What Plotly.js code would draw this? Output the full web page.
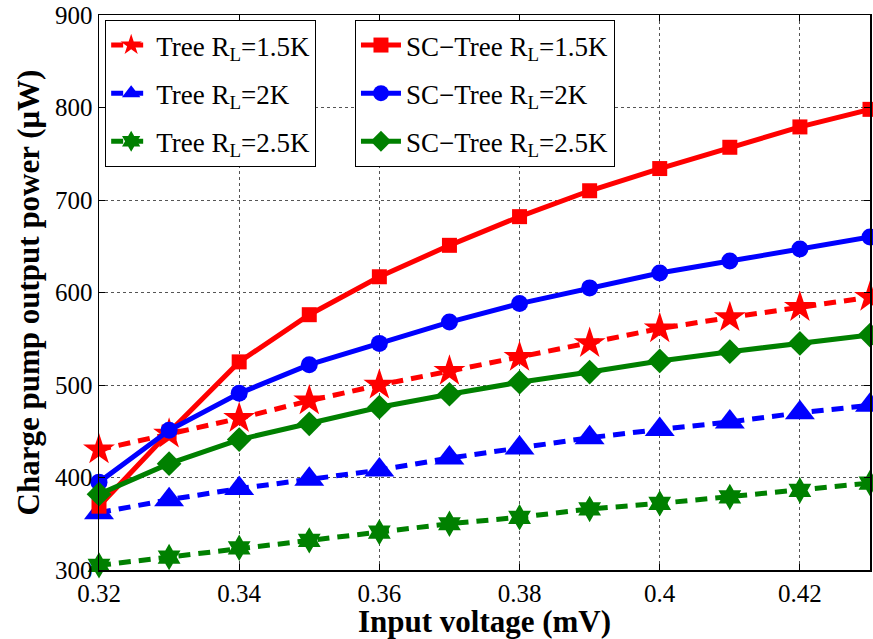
<!DOCTYPE html>
<html>
<head>
<meta charset="utf-8">
<script src="https://cdn.plot.ly/plotly-3.0.1.min.js"></script>
<style>
  html, body { margin: 0; padding: 0; background: #fff; }
  #chart { width: 873px; height: 639px; }
</style>
</head>
<body>
<div id="chart"></div>
<script>
// Input voltage sweep (mV)
const inputVoltage = [0.32, 0.33, 0.34, 0.35, 0.36, 0.37, 0.38, 0.39, 0.40, 0.41, 0.42, 0.43];

// Output power (µW), plain tree charge pump
const tree15 = [430, 447, 464, 483, 500, 515, 530, 545, 561, 573, 584, 595];
const tree2 = [362, 376, 388, 398, 408, 421, 432, 443, 452, 460, 470, 478];
const tree25 = [305, 314, 324, 332, 341, 350, 357, 366, 372, 379, 386, 394];

// Output power (µW), SC-tree charge pump
const scTree15 = [369, 449, 525, 576, 617, 651, 682, 710, 734, 757, 779, 798];
const scTree2 = [395, 451, 491, 522, 545, 568, 588, 605, 621, 634, 647, 660];
const scTree25 = [382, 415, 441, 458, 476, 490, 503, 514, 526, 536, 545, 554];

const xTicks = [0.32, 0.34, 0.36, 0.38, 0.4, 0.42];
const xTickText = ['0.32', '0.34', '0.36', '0.38', '0.4', '0.42'];
const yTicks = [300, 400, 500, 600, 700, 800, 900];

const RED = '#ff0000', BLUE = '#0000ff', GREEN = '#008000';
const DASH = '12px,8px';

function series(name, y, color, symbol, size, dashed, legend) {
  return {
    x: inputVoltage, y: y, name: name, type: 'scatter', mode: 'lines+markers',
    line: { color: color, width: 5, dash: dashed ? DASH : 'solid' },
    marker: { color: color, symbol: symbol, size: size, line: { width: 0 } },
    cliponaxis: false,
    legend: legend,
    legendgroup: name
  };
}

const traces = [
  series('Tree R<sub>L</sub>=1.5K', tree15, RED, 'star', 24, true, 'legend'),
  series('Tree R<sub>L</sub>=2K', tree2, BLUE, 'triangle-up', 26, true, 'legend'),
  series('Tree R<sub>L</sub>=2.5K', tree25, GREEN, 'hexagram', 20, true, 'legend'),
  series('SC\u2212Tree R<sub>L</sub>=1.5K', scTree15, RED, 'square', 15, false, 'legend2'),
  series('SC\u2212Tree R<sub>L</sub>=2K', scTree2, BLUE, 'circle', 17, false, 'legend2'),
  series('SC\u2212Tree R<sub>L</sub>=2.5K', scTree25, GREEN, 'diamond', 19, false, 'legend2')
];

const serif = 'Liberation Serif, Times New Roman, serif';

const legendBase = {
  bgcolor: '#ffffff', bordercolor: '#000000', borderwidth: 1,
  font: { family: serif, size: 27, color: '#000' },
  xanchor: 'left', yanchor: 'top', tracegroupgap: 10, itemwidth: 40
};

const layout = {
  width: 873, height: 639,
  margin: { l: 99, r: 3, t: 15, b: 69 },
  paper_bgcolor: '#ffffff', plot_bgcolor: '#ffffff',
  font: { family: serif, size: 25, color: '#000' },
  showlegend: true,
  legend: Object.assign({}, legendBase, { x: 0.008, y: 0.991 }),
  legend2: Object.assign({}, legendBase, { x: 0.332, y: 0.991 }),
  xaxis: {
    range: [0.32, 0.43], tickvals: xTicks, ticktext: xTickText,
    ticks: 'inside', ticklen: 6, tickcolor: '#000', mirror: 'ticks',
    showline: true, linecolor: '#000', linewidth: 1.5,
    showgrid: true, gridcolor: '#555', griddash: 'dot', gridwidth: 1,
    zeroline: false,
    tickfont: { family: serif, size: 25 },
    title: { text: '<b>Input voltage (mV)</b>', font: { family: serif, size: 31 }, standoff: 2 }
  },
  yaxis: {
    range: [300, 900], tickvals: yTicks,
    ticks: 'inside', ticklen: 6, tickcolor: '#000', mirror: 'ticks',
    showline: true, linecolor: '#000', linewidth: 1.5,
    showgrid: true, gridcolor: '#555', griddash: 'dot', gridwidth: 1,
    zeroline: false,
    tickfont: { family: serif, size: 25 },
    title: { text: '<b>Charge pump output power (\u03BCW)</b>', font: { family: serif, size: 31 }, standoff: 6 }
  }
};

Plotly.newPlot('chart', traces, layout, { displayModeBar: false, staticPlot: true });
</script>
</body>
</html>
